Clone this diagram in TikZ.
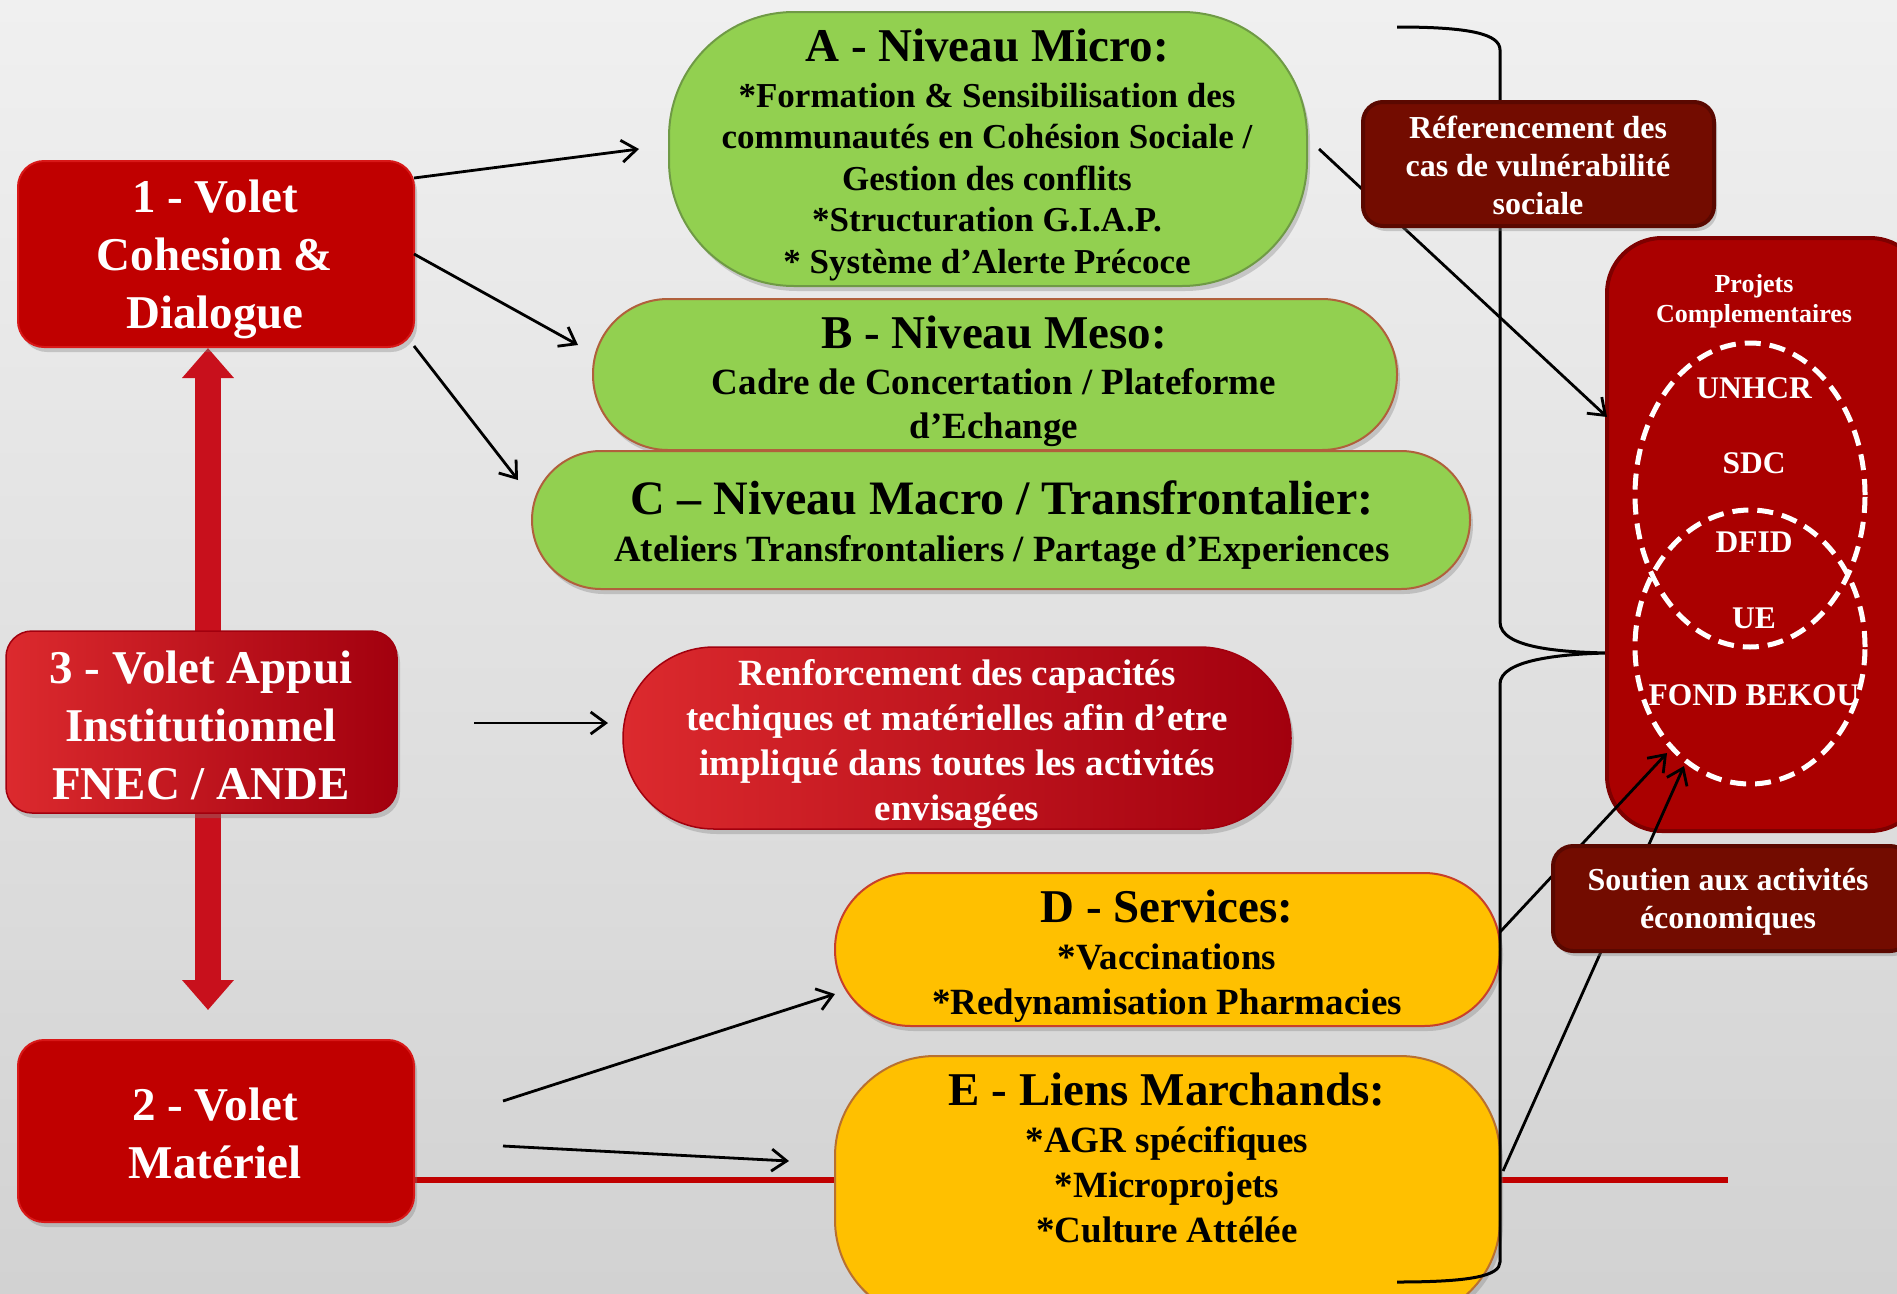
\documentclass[tikz,border=0pt]{standalone}
\usepackage{fontspec}
\setmainfont{Liberation Serif}
\usetikzlibrary{arrows.meta,shapes.geometric,shadows}
\definecolor{bgtop}{HTML}{F0F0F0}
\definecolor{bgbot}{HTML}{D2D2D2}
\definecolor{boxred}{HTML}{C00000}
\definecolor{boxredb}{HTML}{D81818}
\definecolor{gradL}{HTML}{DC2A2E}
\definecolor{gradR}{HTML}{A2000E}
\definecolor{grn}{HTML}{92D050}
\definecolor{grnA}{HTML}{6F9A45}
\definecolor{grnB}{HTML}{B0603C}
\definecolor{ylw}{HTML}{FFC000}
\definecolor{ylwD}{HTML}{C8402A}
\definecolor{ylwE}{HTML}{B87030}
\definecolor{darkr}{HTML}{730C00}
\definecolor{darkrb}{HTML}{5A0800}
\definecolor{proj}{HTML}{AA0000}
\definecolor{projb}{HTML}{7E0000}
\definecolor{barred}{HTML}{C8101C}
\newcommand\myfs[2]{\fontsize{#1}{#2}\selectfont}
\begin{document}
\begin{tikzpicture}[x=1pt,y=-1pt,
  shad/.style={drop shadow={opacity=0.35,shadow xshift=3pt,shadow yshift=-5pt}},
  redbox/.style={rectangle,rounded corners=26pt,fill=boxred,draw=boxredb,line width=2pt,shad,inner sep=0pt},
  gradbox/.style={rectangle,rounded corners=26pt,left color=gradL,right color=gradR,draw=gradR,line width=1.5pt,shad,inner sep=0pt},
  gbox/.style={rectangle,fill=grn,line width=2pt,shad,inner sep=0pt},
  ybox/.style={rectangle,fill=ylw,line width=2pt,shad,inner sep=0pt},
  dbox/.style={rectangle,rounded corners=20pt,fill=darkr,draw=darkrb,line width=4pt,shad,inner sep=0pt},
  pbox/.style={rectangle,rounded corners=55pt,fill=proj,draw=projb,line width=4pt,inner sep=0pt},
  venn/.style={ellipse,draw=white,line width=5pt,dash pattern=on 16pt off 9pt,inner sep=0pt},
  wtxt/.style={text=white,align=center,inner sep=0pt},
  btxt/.style={text=black,align=center,inner sep=0pt},
  arr/.style={line width=2.8pt,-{Straight Barb[length=15pt,width=22pt]}},
]
\clip (0,0) rectangle (1897,1293);
\fill[top color=bgtop,bottom color=bgbot] (0,0) rectangle (1897,1293);

% red horizontal line
\coordinate (rlB) at (1728,1180);
\draw[line width=6pt,boxred] (216,1180) -- (rlB);

% double arrow
\coordinate (dT) at (208,348);
\coordinate (dB) at (208,1010);
\draw[line width=26pt,barred,{Triangle[length=30pt,width=50pt]}-{Triangle[length=30pt,width=50pt]}] (dT) -- (dB);

% left boxes
\node[redbox,minimum width=396pt,minimum height=186pt] (b1) at (216,254) {};
\node[gradbox,minimum width=391pt,minimum height=182pt] (b3) at (201.5,722) {};
\node[redbox,minimum width=396pt,minimum height=182pt] (b2) at (216,1131) {};
\node[wtxt,font=\bfseries\myfs{47}{58}] (t1) at (215,259) {1 - Volet\\Cohesion \&\\Dialogue};
\node[wtxt,font=\bfseries\myfs{47}{58}] (t3) at (201,725) {3 - Volet Appui\\Institutionnel\\FNEC / ANDE};
\node[wtxt,font=\bfseries\myfs{47}{58}] (t2) at (215,1133) {2 - Volet\\Matériel};

% green shapes
\node[gbox,draw=grnA,rounded corners=125pt,minimum width=638pt,minimum height=274pt] (A) at (988,149) {};
\node[gbox,draw=grnB,rounded corners=75pt,minimum width=804pt,minimum height=151pt] (B) at (995,374.5) {};
\node[gbox,draw=grnB,rounded corners=69pt,minimum width=938pt,minimum height=138pt] (C) at (1001,520) {};
\node[btxt,font=\bfseries\myfs{47}{56}] (tAh) at (987,46) {A - Niveau Micro:};
\node[btxt,font=\bfseries\myfs{35}{41.5}] (tAb) at (987,182) {*Formation \& Sensibilisation des\\communautés en Cohésion Sociale /\\Gestion des conflits\\{}*Structuration G.I.A.P.\\{}* Système d’Alerte Précoce};
\node[btxt,font=\bfseries\myfs{47}{56}] (tBh) at (994,333) {B - Niveau Meso:};
\node[btxt,font=\bfseries\myfs{37}{44}] (tBb) at (994,408) {Cadre de Concertation / Plateforme\\d’Echange};
\node[btxt,font=\bfseries\myfs{48}{56}] (tCh) at (1002,498) {C – Niveau Macro / Transfrontalier:};
\node[btxt,font=\bfseries\myfs{37}{44}] (tCb) at (1002,553) {Ateliers Transfrontaliers / Partage d’Experiences};

% Renforcement
\node[gradbox,rounded corners=91pt,minimum width=668pt,minimum height=182pt] (R) at (957,738) {};
\node[wtxt,font=\bfseries\myfs{37}{45}] (tR) at (957,744) {Renforcement des capacités\\techiques et matérielles afin d’etre\\impliqué dans toutes les activités\\envisagées};

% yellow shapes
\node[ybox,draw=ylwD,rounded corners=76pt,minimum width=665pt,minimum height=153pt] (D) at (1167.5,949.5) {};
\node[ybox,draw=ylwE,rounded corners=100pt,minimum width=665pt,minimum height=264pt] (E) at (1167.5,1188) {};
\node[btxt,font=\bfseries\myfs{47}{56}] (tDh) at (1167,907) {D - Services:};
\node[btxt,font=\bfseries\myfs{37}{45}] (tDb) at (1167,983) {*Vaccinations\\{}*Redynamisation Pharmacies};
\node[btxt,font=\bfseries\myfs{47}{56}] (tEh) at (1167,1090) {E - Liens Marchands:};
\node[btxt,font=\bfseries\myfs{37}{45}] (tEb) at (1167,1185) {*AGR spécifiques\\{}*Microprojets\\{}*Culture Attélée};

% brace
\coordinate (brT) at (1397,27);
\coordinate (brM) at (1607,653);
\coordinate (brB) at (1397,1282);
\draw[line width=3pt] (brT) .. controls (1470,27) and (1500,34) .. (1500,50) -- (1500,622) .. controls (1500,648) and (1560,652) .. (brM) .. controls (1560,654) and (1500,660) .. (1500,684) -- (1500,1262) .. controls (1500,1276) and (1470,1282) .. (brB);

% Projets box
\node[pbox,minimum width=318pt,minimum height=593pt] (P) at (1766,534.5) {};
\node[wtxt,font=\bfseries\myfs{26}{30}] (tP) at (1754,301) {Projets\\Complementaires};
\node[venn,minimum width=230pt,minimum height=304pt] (V1) at (1750,495) {};
\node[venn,minimum width=230pt,minimum height=274pt] (V2) at (1750,647) {};
\node[wtxt,font=\bfseries\myfs{31.5}{36}] (vU) at (1754,388) {UNHCR};
\node[wtxt,font=\bfseries\myfs{31.5}{36}] (vS) at (1754,463) {SDC};
\node[wtxt,font=\bfseries\myfs{31.5}{36}] (vD) at (1754,542) {DFID};
\node[wtxt,font=\bfseries\myfs{31.5}{36}] (vE) at (1754,618) {UE};
\node[wtxt,font=\bfseries\myfs{31.5}{36}] (vF) at (1754,695) {FOND BEKOU};

% arrow coordinates
\coordinate (a1s) at (414,178); \coordinate (a1e) at (639,149);
\coordinate (a2s) at (414,254); \coordinate (a2e) at (578,345);
\coordinate (a3s) at (414,346); \coordinate (a3e) at (518,480);
\coordinate (a4s) at (474,723); \coordinate (a4e) at (608,723);
\coordinate (a5s) at (503,1101); \coordinate (a5e) at (835,994);
\coordinate (a6s) at (503,1146); \coordinate (a6e) at (789,1161);
\coordinate (a7s) at (1319,149); \coordinate (a7e) at (1607,417);
\coordinate (a8s) at (1500,932); \coordinate (a8e) at (1667,753);
\coordinate (a9s) at (1503,1171); \coordinate (a9e) at (1684,766);
\draw[arr] (a1s) -- (a1e);
\draw[arr] (a2s) -- (a2e);
\draw[arr] (a3s) -- (a3e);
\draw[arr] (a4s) -- (a4e);
\draw[arr] (a5s) -- (a5e);
\draw[arr] (a6s) -- (a6e);
\draw[arr] (a7s) -- (a7e);
\draw[arr] (a8s) -- (a8e);
\draw[arr] (a9s) -- (a9e);

% dark boxes
\node[dbox,minimum width=351pt,minimum height=124pt] (Ref) at (1538.5,164) {};
\node[wtxt,font=\bfseries\myfs{32}{38}] (tRef) at (1538,165) {Réferencement des\\cas de vulnérabilité\\sociale};
\node[dbox,minimum width=357pt,minimum height=105pt] (Sou) at (1731.5,898.5) {};
\node[wtxt,font=\bfseries\myfs{32}{38}] (tSou) at (1728,902) {Soutien aux activités\\économiques};
\end{tikzpicture}
\end{document}
